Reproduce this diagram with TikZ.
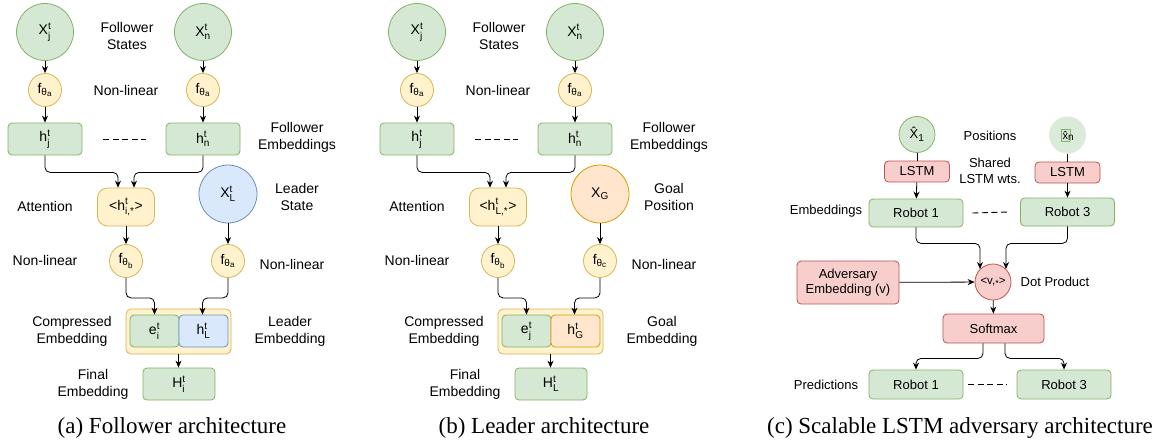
\documentclass[tikz,border=0pt]{standalone}
\usepackage{amsmath}
\usepackage{fontspec}
\setmainfont{Liberation Sans}
\newfontfamily\capfont{Liberation Serif}
\usetikzlibrary{arrows.meta, positioning}

\definecolor{gfill}{HTML}{D5E8D4}\definecolor{gdraw}{HTML}{82B366}
\definecolor{yfill}{HTML}{FFF2CC}\definecolor{ydraw}{HTML}{D6B656}
\definecolor{bfill}{HTML}{DAE8FC}\definecolor{bdraw}{HTML}{6C8EBF}
\definecolor{ofill}{HTML}{FFE6CC}\definecolor{odraw}{HTML}{D79B00}
\definecolor{rfill}{HTML}{F8CECC}\definecolor{rdraw}{HTML}{B85450}

\newcommand\idxfont{\fontsize{10}{10}\selectfont}
\newcommand\supsub[2]{$^{\text{\idxfont #1}}_{\text{\idxfont #2}}$}
\newcommand\subonly[1]{$_{\text{\idxfont #1}}$}
\newcommand\fth[1]{f$_{\text{\idxfont θ}_{\text{\fontsize{8}{8}\selectfont #1}}}$}
\newcommand\lowstar{\raisebox{-0.35ex}{\fontsize{9}{9}\selectfont *}}

\tikzset{
  base/.style={line width=0.8pt, align=center, inner sep=1pt},
  gcirc/.style={base, circle, fill=gfill, draw=gdraw, minimum size=57pt},
  bcirc/.style={base, circle, fill=bfill, draw=bdraw, minimum size=58pt},
  ocirc/.style={base, circle, fill=ofill, draw=odraw, minimum size=58pt},
  ycirc/.style={base, circle, fill=yfill, draw=ydraw, minimum size=33pt},
  rcirc/.style={base, circle, fill=rfill, draw=rdraw, minimum size=36pt},
  gbox/.style={base, rectangle, rounded corners=4pt, fill=gfill, draw=gdraw,
    minimum width=74pt, minimum height=32pt},
  bbox/.style={gbox, fill=bfill, draw=bdraw, minimum width=49pt},
  obox/.style={gbox, fill=ofill, draw=odraw, minimum width=49pt},
  ybox/.style={gbox, fill=yfill, draw=ydraw},
  rbox/.style={gbox, fill=rfill, draw=rdraw},
  lbl/.style={align=center, inner sep=0pt},
  capt/.style={inner sep=0pt, font=\capfont\fontsize{23}{27}\selectfont},
  arr/.style={-{Stealth[length=7pt,width=6pt]}, line width=0.8pt, rounded corners=5pt},
  dashline/.style={line width=0.9pt, dash pattern=on 6pt off 3.5pt}
}

\begin{document}
\begin{tikzpicture}[x=1pt, y=-1pt, every node/.style={font=\fontsize{14}{17}\selectfont}]
\useasboundingbox (0,0) rectangle (1158,447);

% (a) follower architecture
\node[gcirc] (xj) at (45,32) {X\supsub{t}{j}};
\node[gcirc] (xn) at (203,32) {X\supsub{t}{n}};
\node[lbl] (states) at (127,36) {Follower\\States};
\node[ycirc] (fja) at (45,90) {\fth{a}};
\node[ycirc] (fna) at (203,90) {\fth{a}};
\node[lbl] (nl1) at (126,90) {Non-linear};
\node[gbox] (hj) at (45,139) {h\supsub{t}{j}};
\node[gbox] (hn) at (203,139) {h\supsub{t}{n}};
\node[lbl] (femb) at (297,137) {Follower\\Embeddings};
\node[ybox, rounded corners=10pt, minimum width=57pt, minimum height=38pt] (att) at (126,207) {<h\supsub{t}{i,*}>};
\node[lbl] (attl) at (45,206) {Attention};
\node[bcirc] (xl) at (228,194) {X\supsub{t}{L}};
\node[lbl] (lstate) at (297,197) {Leader\\State};
\node[ycirc] (fb) at (126,261) {\fth{b}};
\node[ycirc] (fla) at (228,261) {\fth{a}};
\node[lbl] (nl2) at (45,260) {Non-linear};
\node[lbl] (nl3) at (292,264) {Non-linear};
\node[ybox, rounded corners=5pt, minimum width=105pt, minimum height=45pt] (comp) at (178.5,331.5) {};
\node[gbox, minimum width=49pt] (e) at (154.5,331) {e\supsub{t}{i}};
\node[bbox] (hl) at (203.5,331) {h\supsub{t}{L}};
\node[lbl] (compl) at (72,331) {Compressed\\Embedding};
\node[lbl] (leml) at (290,331) {Leader\\Embedding};
\node[gbox, minimum width=72pt] (H) at (179,384) {H\supsub{t}{i}};
\node[lbl] (finl) at (93,384) {Final\\Embedding};
\node[capt] (capa) at (172,428) {(a) Follower architecture};

\draw[arr] (xj) -- (fja);
\draw[arr] (fja) -- (hj);
\draw[arr] (xn) -- (fna);
\draw[arr] (fna) -- (hn);
\draw[dashline] ([xshift=21pt]hj.east) -- ([xshift=-20pt]hn.west);
\draw[arr] (hj.south) -- ++(0,17) -| ([xshift=-8pt]att.north);
\draw[arr] (hn.south) -- ++(0,17) -| ([xshift=8pt]att.north);
\draw[arr] (att) -- (fb);
\draw[arr] (xl) -- (fla);
\draw[arr] (fb.south) -- ++(0,20) -| (e.north);
\draw[arr] (fla.south) -- ++(0,20) -| ([xshift=-1pt]hl.north);
\draw[arr] (comp.south) -- (comp.south |- H.north);

% (b) leader architecture
\begin{scope}[xshift=372pt, name prefix=b-]
\node[gcirc] (xj) at (45,32) {X\supsub{t}{j}};
\node[gcirc] (xn) at (203,32) {X\supsub{t}{n}};
\node[lbl] (states) at (127,36) {Follower\\States};
\node[ycirc] (fja) at (45,90) {\fth{a}};
\node[ycirc] (fna) at (203,90) {\fth{a}};
\node[lbl] (nl1) at (126,90) {Non-linear};
\node[gbox] (hj) at (45,139) {h\supsub{t}{j}};
\node[gbox] (hn) at (203,139) {h\supsub{t}{n}};
\node[lbl] (femb) at (297,137) {Follower\\Embeddings};
\node[ybox, rounded corners=10pt, minimum width=57pt, minimum height=38pt] (att) at (126,207) {<h\supsub{t}{L,*}>};
\node[lbl] (attl) at (45,206) {Attention};
\node[ocirc] (xg) at (228,194) {X\subonly{G}};
\node[lbl] (gpos) at (297,197) {Goal\\Position};
\node[ycirc] (fb) at (126,261) {\fth{b}};
\node[ycirc] (fc) at (228,261) {\fth{c}};
\node[lbl] (nl2) at (45,260) {Non-linear};
\node[lbl] (nl3) at (292,264) {Non-linear};
\node[ybox, rounded corners=5pt, minimum width=105pt, minimum height=45pt] (comp) at (178.5,331.5) {};
\node[gbox, minimum width=49pt] (e) at (154.5,331) {e\supsub{t}{j}};
\node[obox] (hg) at (203.5,331) {h\supsub{t}{G}};
\node[lbl] (compl) at (72,331) {Compressed\\Embedding};
\node[lbl] (geml) at (290,331) {Goal\\Embedding};
\node[gbox, minimum width=72pt] (H) at (179,384) {H\supsub{t}{L}};
\node[lbl] (finl) at (93,384) {Final\\Embedding};
\node[capt] (capb) at (172,428) {(b) Leader architecture};

\draw[arr] (xj) -- (fja);
\draw[arr] (fja) -- (hj);
\draw[arr] (xn) -- (fna);
\draw[arr] (fna) -- (hn);
\draw[dashline] ([xshift=21pt]hj.east) -- ([xshift=-20pt]hn.west);
\draw[arr] (hj.south) -- ++(0,17) -| ([xshift=-8pt]att.north);
\draw[arr] (hn.south) -- ++(0,17) -| ([xshift=8pt]att.north);
\draw[arr] (att) -- (fb);
\draw[arr] (xg) -- (fc);
\draw[arr] (fb.south) -- ++(0,20) -| (e.north);
\draw[arr] (fc.south) -- ++(0,20) -| ([xshift=-1pt]hg.north);
\draw[arr] (comp.south) -- (comp.south |- H.north);
\end{scope}

% (c) scalable LSTM adversary
\begin{scope}[every node/.append style={font=\fontsize{13}{15.5}\selectfont}]
\node[gcirc, minimum size=36pt] (x1) at (917,134.5) {\^{X}\subonly{1}};
\node[gcirc, minimum size=37pt, draw=none, fill=gfill!85] (xnn) at (1067.5,135)
  {\setlength{\fboxsep}{1.5pt}\fcolorbox{gdraw}{gfill}{\fontsize{11}{11}\selectfont\^{x}}\kern-2pt\subonly{n}};
\node[lbl] (pos) at (990,136) {Positions};
\node[rbox, minimum width=65pt, minimum height=21pt] (lstm1) at (917,171.5) {LSTM};
\node[rbox, minimum width=65pt, minimum height=21pt] (lstmn) at (1067.5,172.5) {LSTM};
\node[lbl] (shared) at (990,171) {Shared\\LSTM wts.};
\node[gbox, minimum width=94pt, minimum height=28pt] (r1) at (916,213) {Robot 1};
\node[gbox, minimum width=94pt, minimum height=28pt] (r3) at (1067.5,212) {Robot 3};
\node[lbl] (embl) at (826,211) {Embeddings};
\node[rcirc, font=\fontsize{11.5}{13}\selectfont] (dot) at (993,282) {<v,\lowstar>};
\node[lbl] (dotl) at (1055,282) {Dot Product};
\node[rbox, minimum width=102pt, minimum height=43pt] (adv) at (848,282.5) {Adversary\\Embedding (v)};
\node[rbox, minimum width=101pt, minimum height=29pt] (soft) at (993.5,328.5) {Softmax};
\node[gbox, minimum width=94pt, minimum height=29pt] (p1) at (916,384.5) {Robot 1};
\node[gbox, minimum width=94pt, minimum height=29pt] (p3) at (1064,384.5) {Robot 3};
\node[lbl] (predl) at (826,385) {Predictions};
\node[capt] (capc) at (960,428) {(c) Scalable LSTM adversary architecture};

\draw[line width=0.8pt] (x1) -- (lstm1);
\draw[line width=0.8pt] (xnn) -- (lstmn);
\draw[arr] (lstm1) -- (r1);
\draw[arr] (lstmn) -- (r3);
\draw[dashline] ([xshift=9pt]r1.east) -- ([xshift=-11pt]r3.west);
\draw[arr] (r1.south) -- ++(0,16) -| (dot.north west);
\draw[arr] (r3.south) -- ++(0,17) -| (dot.north east);
\draw[arr] (adv) -- (dot);
\draw[arr] (dot) -- (soft);
\draw[arr] ([xshift=-10.5pt]soft.south) -- ++(0,15) -| (p1.north);
\draw[arr] ([xshift=11.5pt]soft.south) -- ++(0,15) -| (p3.north);
\draw[dashline] ([xshift=5pt]p1.east) -- ([xshift=-10pt]p3.west);
\end{scope}
\end{tikzpicture}
\end{document}
